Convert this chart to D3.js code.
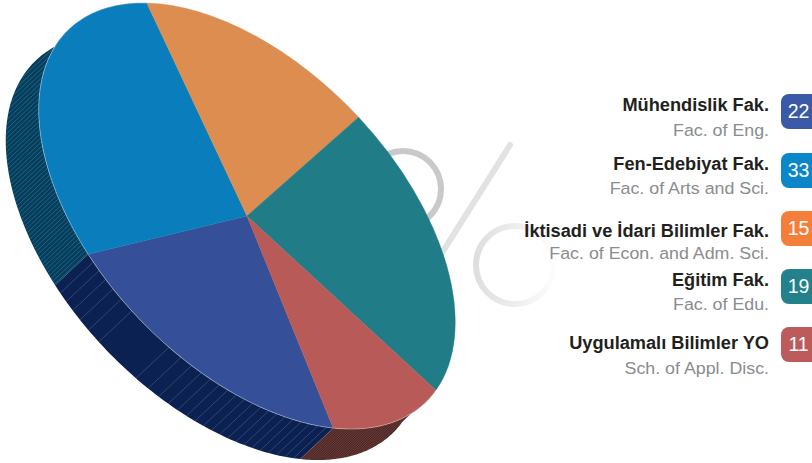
<!DOCTYPE html>
<html><head><meta charset="utf-8">
<script src="https://cdn.jsdelivr.net/npm/d3@7"></script>
<style>html,body{margin:0;padding:0;background:#fff;overflow:hidden}svg{display:block}</style>
</head><body><svg id="c" width="812" height="463"></svg>
<script>
const titles = ["Mühendislik Fak.","Fen-Edebiyat Fak.","İktisadi ve İdari Bilimler Fak.","Eğitim Fak.","Uygulamalı Bilimler YO"];
const subtitles = ["Fac. of Eng.","Fac. of Arts and Sci.","Fac. of Econ. and Adm. Sci.","Fac. of Edu.","Sch. of Appl. Disc."];
const badgeValues = [22,33,15,19,11];
// Slice sizes as they appear in the picture (the tilted pie is not drawn to the printed numbers)
const sliceShares = [20.6,28.2,17.0,22.9,11.3];
const topColors = ["#355099","#0A7DBD","#DC8D4F","#207D87","#B85B58"];
const sideColors = ["#0A2152","#023F5F","#000","#000","#4E2320"];
const badgeColors = ["#3A5AA8","#0A86C9","#F57F3A","#22818B","#BD5A5C"];

const svg = d3.select("#c");
const cx=247, cy=216, A=258, B=149, tilt=46.3, dx=-33, dy=31;
const rad=d3.scaleLinear().domain([0,360]).range([0,2*Math.PI]);

// background percent sign
const defs=svg.append("defs");
const g1=defs.append("linearGradient").attr("id","ring2").attr("x1","0").attr("x2","1");
g1.append("stop").attr("offset","0").attr("stop-color","#dedee0");
g1.append("stop").attr("offset","1").attr("stop-color","#fdfdfd");
const pct=svg.append("g").attr("fill","none");
pct.append("circle").attr("cx",403).attr("cy",189).attr("r",38).attr("stroke","#c9c9cc").attr("stroke-width",6);
pct.append("line").attr("x1",510).attr("y1",145).attr("x2",430).attr("y2",272).attr("stroke","#e2e2e4").attr("stroke-width",6).attr("stroke-linecap","round");
pct.append("circle").attr("cx",515).attr("cy",265).attr("r",39).attr("stroke","url(#ring2)").attr("stroke-width",6);

const arcs=d3.pie().sort(null).startAngle(rad(124.4)).endAngle(rad(484.4))(sliceShares);
const cT=Math.cos(rad(tilt)), sT=Math.sin(rad(tilt));
const rim=t=>{const lx=A*Math.sin(t), ly=-B*Math.cos(t); return [cx+lx*cT-ly*sT, cy+lx*sT+ly*cT];};
const lineGen=d3.line();

// side walls
const sideG=svg.append("g");
arcs.forEach((a,i)=>{
  if(![0,1,4].includes(i)) return;
  const ts=d3.range(0,61).map(k=>a.startAngle+(a.endAngle-a.startAngle)*k/60);
  const outer=ts.map(rim), low=ts.slice().reverse().map(t=>{const p=rim(t);return [p[0]+dx,p[1]+dy];});
  sideG.append("path").attr("d",lineGen(outer.concat(low))+"Z").attr("fill",sideColors[i]);
});
function hatch(i,ulist,op,sw){
  const a=arcs[i];
  ulist.forEach(u=>{
    if(Math.abs(u)>=A) return;
    let t=Math.asin(u/A);
    const cands=[t,Math.PI-t,t+2*Math.PI,3*Math.PI-t,Math.PI-t+2*Math.PI];
    const hit=cands.find(c=>c>a.startAngle&&c<a.endAngle);
    if(hit===undefined) return;
    const p=rim(hit);
    sideG.append("line").attr("x1",p[0]).attr("y1",p[1]).attr("x2",p[0]+dx).attr("y2",p[1]+dy)
      .attr("stroke","#fff").attr("stroke-opacity",op).attr("stroke-width",sw);
  });
}
hatch(1,d3.range(-255,-80,3.3),.28,.6);
const u0=15, fan=d3.range(1,26).map(n=>26*Math.pow(n,.68));
hatch(0,fan.map(d=>u0+d).concat(fan.map(d=>u0-d)),.28,.6);
hatch(4,d3.range(40,257,1.7),.28,.5);

// top face
const arcGen=d3.arc().innerRadius(0).outerRadius(1);
const topFace=svg.append("g").attr("transform",`translate(${cx},${cy}) rotate(${tilt}) scale(${A},${B})`);
topFace.selectAll("path").data(arcs).join("path").attr("d",arcGen).attr("fill",(d,i)=>topColors[i])
  .attr("stroke",(d,i)=>topColors[i]).attr("stroke-width",.4).attr("vector-effect","non-scaling-stroke");
// pale rim line over the visible wall
[0,1,4].forEach(i=>{
  const a=arcs[i], ts=d3.range(0,61).map(k=>a.startAngle+(a.endAngle-a.startAngle)*k/60);
  svg.append("path").attr("d",lineGen(ts.map(rim))).attr("fill","none").attr("stroke","#fff").attr("stroke-opacity",.45).attr("stroke-width",.7);
});

// legend
const titleY=[111,170,237,286,349], subY=[136,194,259,310,374], boxY=[94,153,211,269,327], numY=[118,177,235,293,351];
const lg=svg.append("g").selectAll("g").data(titles).join("g");
lg.append("text").attr("transform",(d,i)=>`translate(769,${titleY[i]}) scale(1.04,1)`).attr("text-anchor","end")
  .attr("font-family","'Liberation Sans'").attr("font-weight",700).attr("font-size",17.5).attr("fill","#231f20").text(d=>d);
lg.append("text").attr("transform",(d,i)=>`translate(769,${subY[i]}) scale(1.08,1)`).attr("text-anchor","end")
  .attr("font-family","'Liberation Sans'").attr("font-size",16.5).attr("fill","#8a8c8e").text((d,i)=>subtitles[i]);
lg.append("rect").attr("x",781).attr("y",(d,i)=>boxY[i]).attr("width",40).attr("height",35).attr("rx",8).attr("fill",(d,i)=>badgeColors[i]);
lg.append("text").attr("x",798.5).attr("y",(d,i)=>numY[i]).attr("text-anchor","middle")
  .attr("font-family","'Liberation Sans'").attr("font-size",19.5).attr("fill","#fff").text((d,i)=>badgeValues[i]);
</script></body></html>
